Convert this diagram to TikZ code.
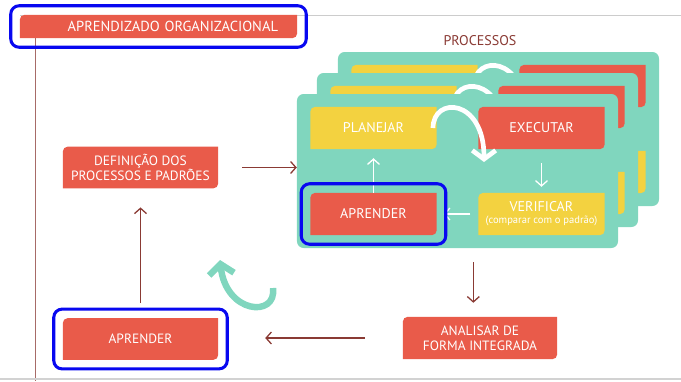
\documentclass[tikz,border=0pt]{standalone}
\usepackage{fontspec}
\setmainfont{PT Sans}
\usetikzlibrary{positioning,arrows.meta,calc,fit}

\definecolor{boxred}{RGB}{233,91,74}
\definecolor{boxyellow}{RGB}{243,210,64}
\definecolor{cardteal}{RGB}{128,214,190}
\definecolor{linered}{RGB}{138,58,52}
\definecolor{markblue}{RGB}{8,8,240}

\tikzset{
  leaf/.style={inner sep=0pt, text=white, align=center,
    font=\fontsize{11.5}{13}\selectfont,
    append after command={\pgfextra{\fill[#1]
      (\tikzlastnode.south west) -- ([yshift=-1.5mm]\tikzlastnode.north west)
      arc[start angle=180, end angle=90, radius=1.5mm] -- (\tikzlastnode.north east)
      -- ([yshift=1.5mm]\tikzlastnode.south east)
      arc[start angle=0, end angle=-90, radius=1.5mm] -- cycle;}}},
  cycbox/.style={leaf=#1, minimum width=3.78cm, minimum height=1.26cm, font=\fontsize{12}{13}\selectfont},
  mainbox/.style={leaf=#1, minimum width=4.65cm, minimum height=1.24cm},
  card/.style={fill=cardteal, rounded corners=2mm, minimum width=9.63cm, minimum height=4.62cm},
  flow/.style={draw=linered, line width=1.1pt, -{Straight Barb[length=1.6mm,width=3.6mm]}},
  cycflow/.style={draw=white, line width=1.1pt, -{Straight Barb[length=1.6mm,width=3.6mm]}},
  turn/.style={draw=white, line width=4pt, -{Straight Barb[length=2.6mm,width=7mm]}},
  loopback/.style={draw=cardteal, line width=5.5pt, -{Straight Barb[length=3mm,width=7.5mm]}},
  bluemark/.style={draw=markblue, line width=2.6pt, rounded corners=2.5mm, inner sep=0.27cm}
}

\begin{document}
\begin{tikzpicture}[x=0.03cm,y=-0.03cm]
  \useasboundingbox (0,0) rectangle (681,381);

  % page frame
  \draw[gray!40, line width=0.6pt] (20,15) -- (681,15);
  \draw[linered!75, line width=0.8pt] (35,38) -- (35,381);
  \draw[gray!35, line width=1pt] (0,379) -- (681,379);

  \node[leaf=boxred, font=\fontsize{12.4}{14}\selectfont, minimum height=0.69cm, text width=7.17cm, align=right, inner xsep=0.57cm] (title) at (158.5,26.5) {APRENDIZADO ORGANIZACIONAL};
  \node[text=linered, font=\fontsize{12}{14}\selectfont] (proc) at (480,41) {PROCESSOS};

  % stacked cards behind
  \foreach \dx/\dy in {41/-42, 20/-21} {
    \begin{scope}[shift={(\dx,\dy)}]
      \node[card] (card\dx) at (457.5,171) {};
      \node[cycbox=boxyellow] (plan\dx) at (373.5,128) {};
      \node[cycbox=boxred] (exec\dx) at (541.5,128) {};
      \node[cycbox=boxyellow] (verif\dx) at (541.5,214) {};
      \node[cycbox=boxred] (learn\dx) at (373.5,214) {};
      \draw[turn] (433,128) .. controls (433,96) and (484,98) .. (484,162);
    \end{scope}
  }

  % front card
  \node[card] (front) at (457.5,171) {};
  \node[cycbox=boxyellow] (plan) at (373.5,128) {PLANEJAR};
  \node[cycbox=boxred] (exec) at (541.5,128) {EXECUTAR};
  \node[cycbox=boxyellow] (verif) at (541.5,214) {VERIFICAR\\[-3pt]{\fontsize{9}{10}\selectfont(comparar com o padrão)}};
  \node[cycbox=boxred] (learn) at (373.5,214) {APRENDER};
  \draw[turn] (433,128) .. controls (433,96) and (484,98) .. (484,162);

  \draw[cycflow, shorten >=0.27cm] (learn) -- (plan);
  \draw[cycflow, shorten <=0.42cm, shorten >=0.18cm] (exec) -- (verif);
  \draw[cycflow, shorten <=0.24cm, shorten >=0.21cm] (verif) -- (learn);

  \node[mainbox=boxred] (define) at (140.5,167.5) {DEFINIÇÃO DOS\\PROCESSOS E PADRÕES};
  \node[mainbox=boxred] (relearn) at (140.5,339) {APRENDER};
  \node[leaf=boxred, minimum width=4.62cm, minimum height=1.26cm] (analyse) at (480,338) {ANALISAR DE\\FORMA INTEGRADA};

  \draw[flow, shorten <=0.72cm] (define.east) -- (define.east -| front.west);
  \draw[flow, shorten <=0.45cm, shorten >=0.57cm] (relearn) -- (define);
  \draw[flow, shorten <=0.42cm, shorten >=0.42cm] ([xshift=-0.2cm]analyse.north |- front.south) -- ([xshift=-0.2cm]analyse.north);
  \draw[flow, shorten <=1.14cm, shorten >=1.41cm] (analyse.west) -- (analyse.west -| relearn.east);
  \draw[loopback] (273,288) .. controls (277,318) and (226,314) .. (220,260);

  % highlights
  \node[bluemark, fit=(title)] (titlemark) {};
  \node[bluemark, fit=(learn)] (learnmark) {};
  \node[bluemark, fit=(relearn)] (relearnmark) {};
\end{tikzpicture}
\end{document}
